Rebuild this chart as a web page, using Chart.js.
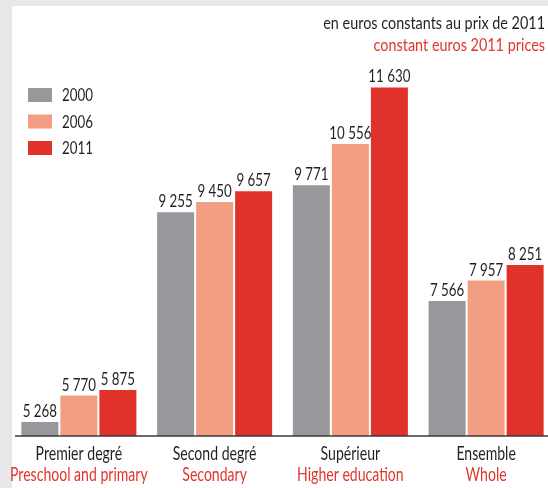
<!DOCTYPE html>
<html lang="fr">
<head>
  <meta charset="UTF-8" />
  <title>Dépense par élève</title>
  <script src="https://cdn.jsdelivr.net/npm/chart.js"></script>
  <style>
    html, body { margin: 0; padding: 0; overflow: hidden; }
    body { background: #e6e7e9; width: 548px; height: 488px; position: relative; }
    .sheet { position: absolute; left: 12px; top: 6px; right: 0; bottom: 0; background: #fff; }
    #wrap { position: absolute; left: 0; top: 0; width: 556px; height: 488px; }
  </style>
</head>
<body>
  <div class="sheet"></div>
  <div id="wrap"><canvas id="chart"></canvas></div>

  <script>
    // data
    const catFr = ['Premier degré', 'Second degré', 'Supérieur', 'Ensemble'];
    const catEn = ['Preschool and primary', 'Secondary', 'Higher education', 'Whole'];
    const years = ['2000', '2006', '2011'];
    const v2000 = [5268, 9255, 9771, 7566];
    const v2006 = [5770, 9450, 10556, 7957];
    const v2011 = [5875, 9657, 11630, 8251];
    const colors = ['#98989c', '#f19e82', '#e0322a'];

    const dark = '#231f20';
    const red = '#e2342b';
    const FONT = 'Lato, "Open Sans", sans-serif';

    function fmt(n) {
      return String(n).replace(/\B(?=(\d{3})+(?!\d))/g, ' ');
    }

    // condensed text: draw with a horizontal squeeze
    function txt(ctx, s, x, y, size, color, align, sx) {
      sx = sx || 0.74;
      ctx.save();
      ctx.font = size + 'px ' + FONT;
      ctx.fillStyle = color;
      ctx.textBaseline = 'alphabetic';
      const w = ctx.measureText(s).width * sx;
      let x0 = x;
      if (align === 'center') x0 = x - w / 2;
      if (align === 'right') x0 = x - w;
      ctx.translate(x0, y);
      ctx.scale(sx, 1);
      ctx.fillText(s, 0, 0);
      ctx.restore();
    }

    const decor = {
      id: 'decor',
      afterDatasetsDraw(chart) {
        const ctx = chart.ctx;
        const xs = chart.scales.x;
        const base = chart.scales.y.getPixelForValue(5000);

        // baseline
        ctx.save();
        ctx.strokeStyle = '#3a3a3a';
        ctx.lineWidth = 1.5;
        ctx.beginPath();
        ctx.moveTo(15, base);
        ctx.lineTo(548, base);
        ctx.stroke();
        ctx.restore();

        // value labels
        chart.data.datasets.forEach((ds, i) => {
          chart.getDatasetMeta(i).data.forEach((bar, j) => {
            txt(ctx, fmt(ds.data[j]), bar.x, bar.y - 5, 18, dark, 'center');
          });
        });

        // category labels
        catFr.forEach((c, i) => {
          const x = xs.getPixelForValue(i);
          txt(ctx, c, x, 460, 19, dark, 'center');
          txt(ctx, catEn[i], x, 481, 19, red, 'center');
        });

        // legend
        years.forEach((y, i) => {
          const top = 88 + i * 26.5;
          ctx.fillStyle = colors[i];
          ctx.fillRect(28, top, 24, 14);
          txt(ctx, y, 62, top + 13, 18, dark, 'left');
        });

        // unit note
        txt(ctx, 'en euros constants au prix de 2011', 545, 29, 18, dark, 'right', 0.8);
        txt(ctx, 'constant euros 2011 prices', 545, 51, 18, red, 'right', 0.8);
      }
    };

    new Chart(document.getElementById('chart'), {
      type: 'bar',
      data: {
        labels: catFr,
        datasets: [
          { label: years[0], data: v2000, backgroundColor: colors[0] },
          { label: years[1], data: v2006, backgroundColor: colors[1] },
          { label: years[2], data: v2011, backgroundColor: colors[2] }
        ]
      },
      options: {
        responsive: true,
        maintainAspectRatio: false,
        animation: false,
        datasets: {
          bar: { categoryPercentage: 0.862, barPercentage: 0.949, borderWidth: 0 }
        },
        layout: { padding: { left: 11, right: 2, top: 68, bottom: 52 } },
        plugins: {
          legend: { display: false },
          tooltip: { enabled: false }
        },
        scales: {
          x: { display: false },
          y: { display: false, min: 5000, max: 12000 }
        }
      },
      plugins: [decor]
    });
  </script>
</body>
</html>
